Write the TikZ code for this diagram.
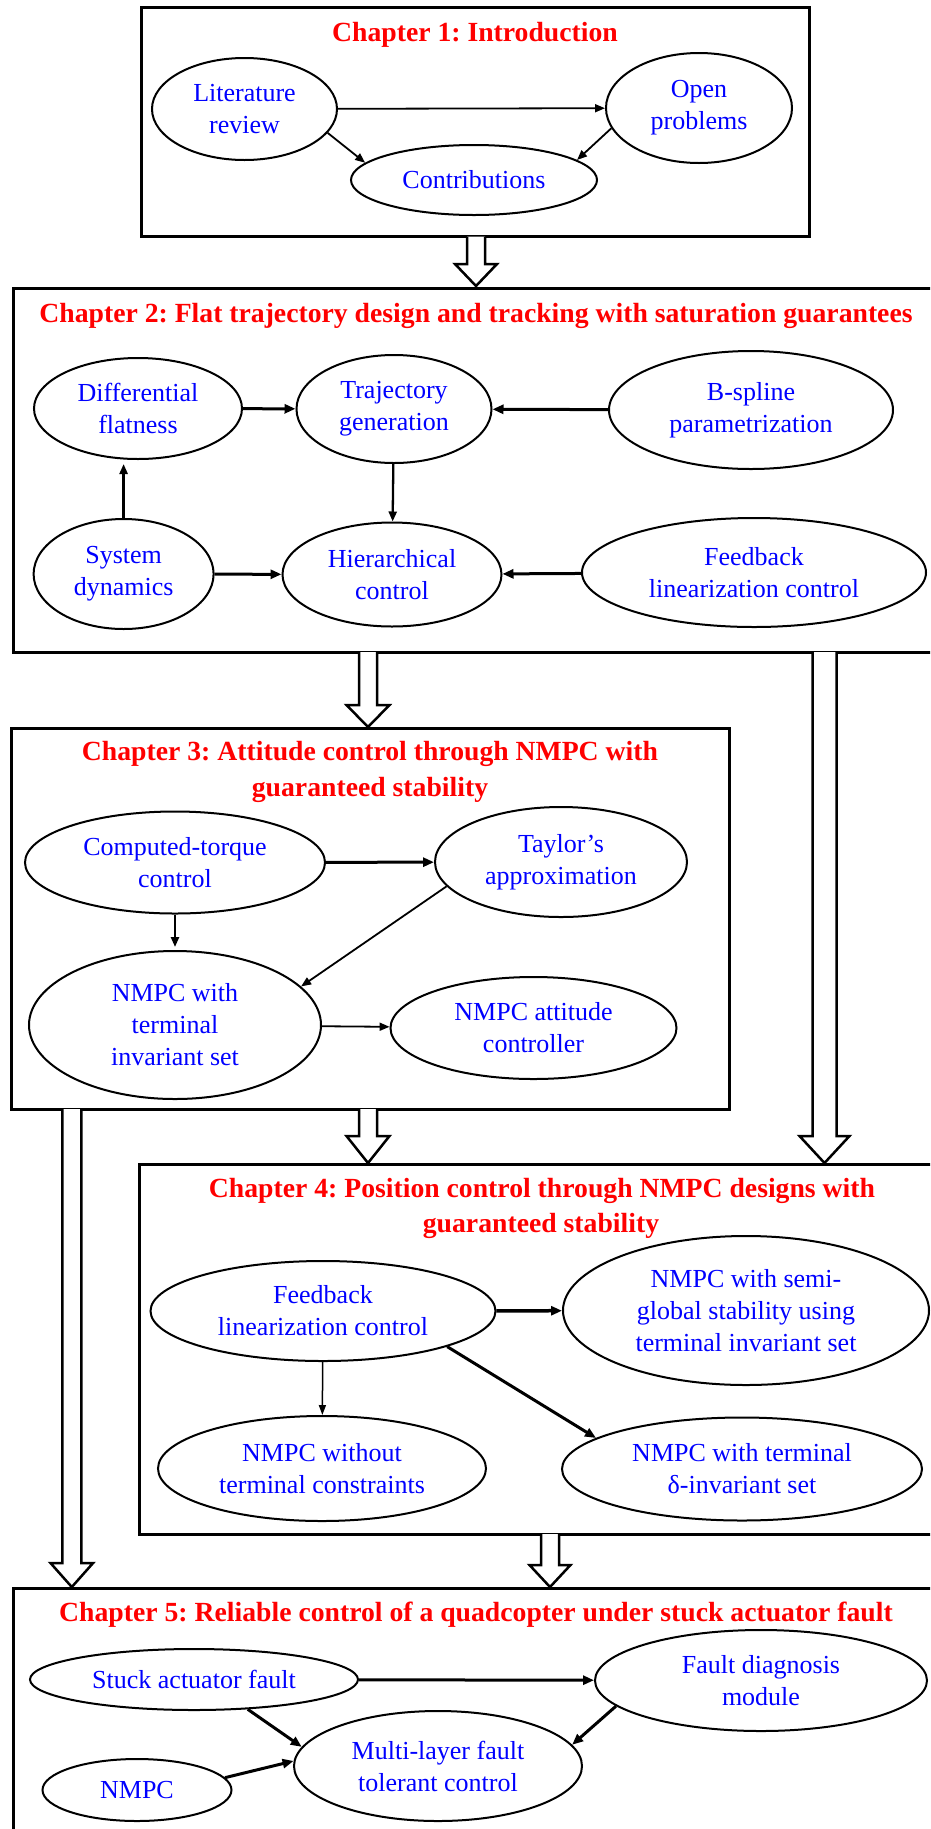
\documentclass[tikz,border=0pt]{standalone}
\usepackage{fontspec}
\setmainfont{Liberation Serif}
\usetikzlibrary{shapes.geometric,arrows.meta}
\frenchspacing
\newcommand\hollowdown[6]{\draw[hollow] ({#1-#5},#2) -- ({#1-#5},#3) -- ({#1-#6},#3) -- (#1,#4) -- ({#1+#6},#3) -- ({#1+#5},#3) -- ({#1+#5},#2);}
\begin{document}
\begin{tikzpicture}[x=1pt,y=-1pt,
  chbox/.style={line width=3pt},
  ell/.style={ellipse, draw, line width=2pt, inner sep=0pt, align=center, text=blue, font=\fontsize{26}{32}\selectfont},
  ttl/.style={text=red, font=\fontsize{27.7}{36.5}\selectfont\bfseries, inner sep=0pt, anchor=base},
  thinarr/.style={line width=1.8pt, -{Triangle[length=10pt,width=8pt]}},
  medarr/.style={line width=2.3pt, -{Triangle[length=10pt,width=8pt]}},
  thickarr/.style={line width=3pt, -{Triangle[length=11pt,width=9pt]}},
  hollow/.style={line width=2.5pt, fill=white, line join=miter}
]
\clip (0,0) rectangle (930,1829);
\fill[white] (0,0) rectangle (930,1829);

% chapter boxes
\draw[chbox] (141,7.5) rectangle (809,236.5);
\draw[chbox] (13,288) rectangle (960,652);
\draw[chbox] (11,728) rectangle (729.5,1109);
\draw[chbox] (139.5,1164) rectangle (960,1534);
\draw[chbox] (13,1588) rectangle (960,1900);

% titles
\node[ttl] (t1) at (475,41.7) {Chapter 1: Introduction};
\node[ttl] (t2) at (476,322.7) {Chapter 2: Flat trajectory design and tracking with saturation guarantees};
\node[ttl] (t3a) at (370,760.5) {Chapter 3: Attitude control through NMPC with};
\node[ttl] (t3b) at (370,796.7) {guaranteed stability};
\node[ttl] (t4a) at (542,1197) {Chapter 4: Position control through NMPC designs with};
\node[ttl] (t4b) at (541,1232.7) {guaranteed stability};
\node[ttl] (t5) at (476,1621) {Chapter 5: Reliable control of a quadcopter under stuck actuator fault};

% chapter 1
\node[ell, minimum width=185pt, minimum height=102pt] (lit) at (244.5,109) {Literature\\review};
\node[ell, minimum width=186pt, minimum height=110pt] (open) at (699,108) {Open\\problems};
\node[ell, minimum width=246pt, minimum height=70pt] (contrib) at (474,180) {Contributions};
\draw[thinarr] (lit) -- (open);
\draw[thinarr] (lit.-16) -- (contrib.171);
\draw[thinarr] (open.193) -- (contrib.11);

% chapter 2
\node[ell, minimum width=208pt, minimum height=101pt] (diff) at (138,408.5) {Differential\\flatness};
\node[ell, minimum width=195pt, minimum height=108pt] (traj) at (394,409) {Trajectory\\generation};
\node[ell, minimum width=284pt, minimum height=118pt] (bsp) at (751,410) {B-spline\\parametrization};
\node[ell, minimum width=180pt, minimum height=110pt] (sys) at (123.6,574) {System\\dynamics};
\node[ell, minimum width=219pt, minimum height=104pt] (hier) at (392,574.5) {Hierarchical\\control};
\node[ell, minimum width=344pt, minimum height=109pt] (fbt) at (754,572.5) {Feedback\\linearization control};
\draw[thickarr] (diff) -- (traj);
\draw[thickarr] (bsp) -- (traj);
\draw[medarr] (traj) -- (hier);
\draw[medarr, shorten >=4pt] (sys.north) -- (sys.north |- diff.south);
\draw[thickarr] (sys) -- (hier);
\draw[thickarr] (fbt) -- (hier);

% chapter 3
\node[ell, minimum width=300pt, minimum height=102pt] (comp) at (175,862.5) {Computed-torque\\control};
\node[ell, minimum width=252pt, minimum height=110pt] (taylor) at (561,862) {Taylor’s\\approximation};
\node[ell, minimum width=292pt, minimum height=148pt] (nmt) at (175,1025) {NMPC with\\terminal\\invariant set};
\node[ell, minimum width=286pt, minimum height=102pt] (att) at (533.5,1028) {NMPC attitude\\controller};
\draw[thickarr] (comp) -- (taylor);
\draw[medarr, shorten >=3pt] (comp) -- (nmt);
\draw[thinarr] (taylor.192) -- (nmt.17);
\draw[thinarr] (nmt) -- (att);

% chapter 4
\node[ell, minimum width=345pt, minimum height=100pt] (fbf) at (323,1311) {Feedback\\linearization control};
\node[ell, minimum width=366pt, minimum height=149pt] (semi) at (746,1310.5) {NMPC with semi-\\global stability using\\terminal invariant set};
\node[ell, minimum width=328pt, minimum height=105pt] (wo) at (322,1468.5) {NMPC without\\terminal constraints};
\node[ell, minimum width=360pt, minimum height=103pt] (delta) at (742,1469) {NMPC with terminal\\δ-invariant set};
\draw[line width=3.5pt, -{Triangle[length=11pt,width=9pt]}] (fbf) -- (semi);
\draw[line width=1.5pt, -{Triangle[length=10pt,width=7pt]}] (fbf) -- (wo);
\draw[thickarr] (fbf.-16) -- (delta.168);

% chapter 5
\node[ell, minimum width=328pt, minimum height=61pt] (stuck) at (194,1679.5) {Stuck actuator fault};
\node[ell, minimum width=332pt, minimum height=101pt] (fault) at (761,1680.5) {Fault diagnosis\\module};
\node[ell, minimum width=288pt, minimum height=110pt] (multi) at (438,1766) {Multi-layer fault\\tolerant control};
\node[ell, minimum width=189pt, minimum height=62pt] (nmpc) at (137,1790) {NMPC};
\draw[thickarr] (stuck) -- (fault);
\draw[thickarr] (stuck.-29) -- (multi.172);
\draw[thickarr] (fault.190) -- (multi.9);
\draw[thickarr] (nmpc.8) -- (multi.178);

% hollow block arrows between chapters
\hollowdown{476}{236.5}{264}{286}{9}{21}
\hollowdown{368}{652}{705}{727}{9}{21.5}
\hollowdown{824.5}{652}{1136}{1163}{12}{25}
\hollowdown{368}{1109}{1136}{1163}{9}{21.5}
\hollowdown{71.8}{1109}{1563}{1587}{9.5}{21.3}
\hollowdown{550}{1534}{1565}{1587}{9}{20.5}
\end{tikzpicture}
\end{document}
